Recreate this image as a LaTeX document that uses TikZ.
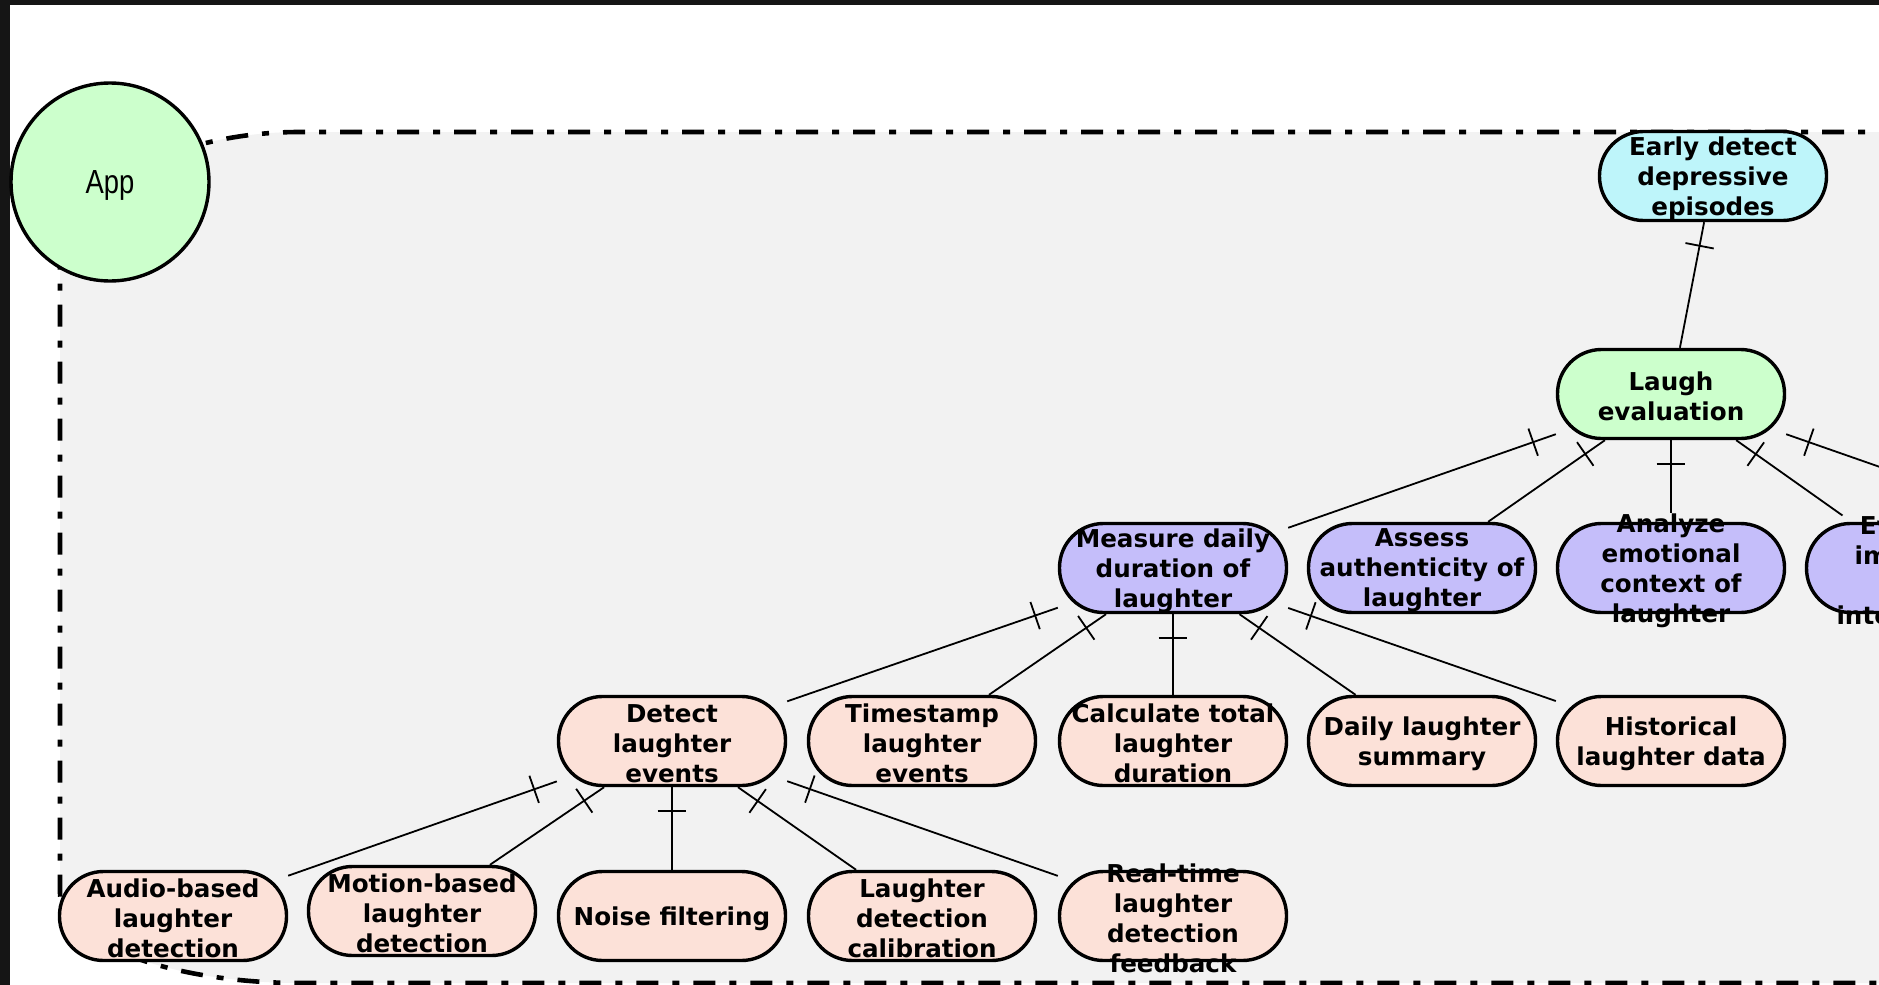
\documentclass[tikz,border=0pt]{standalone}
\usepackage{fontspec}
\setmainfont{DejaVu Sans}
\newfontfamily\appfont{Liberation Sans}[FakeStretch=0.82]
\usetikzlibrary{decorations.markings}

\definecolor{frame}{RGB}{21,21,21}
\definecolor{panel}{RGB}{242,242,242}
\definecolor{goalcyan}{RGB}{190,245,250}
\definecolor{featgreen}{RGB}{204,255,204}
\definecolor{subviolet}{RGB}{197,190,250}
\definecolor{taskpeach}{RGB}{252,225,216}

\tikzset{
  shapebox/.style={rectangle, rounded corners=22pt, minimum width=113.5pt,
    minimum height=44.5pt, inner sep=0pt, draw=black, line width=1.7pt},
  boxtext/.style={inner sep=0pt, align=center, yshift=-1.2pt,
    font=\bfseries\fontsize{12.3}{15}\selectfont},
  link/.style={draw=black, line width=0.9pt, postaction={decorate},
    decoration={markings, mark=at position 12pt with
      {\draw[line width=0.9pt] (0,-7.2pt) -- (0,7.2pt);}}},
  panelline/.style={draw=black, line width=2.3pt,
    dash pattern=on 11pt off 7pt on 3.5pt off 7pt, fill=panel},
  appnode/.style={circle, draw=black, line width=1.7pt, fill=featgreen,
    minimum size=99pt, inner sep=0pt, text depth=0pt,
    font=\appfont\fontsize{16.7}{20}\selectfont},
}

% a fixed-size rounded box with its (possibly overflowing) label on top
\newcommand\boxnode[4]{%
  \node[shapebox, fill=#2] (#1) at (#3) {};
  \node[boxtext] (#1-t) at (#1.center) {#4};
}

\begin{document}
\begin{tikzpicture}[x=0.5pt, y=-0.5pt]
\useasboundingbox (0,0) rectangle (1879,985);
\clip (0,0) rectangle (1879,985);
\fill[frame] (0,0) rectangle (1879,985);
\fill[white] (10,5) rectangle (1879,985);

% dash-dotted group frame
\path[panelline] (2300,132) -- (300,132)
  .. controls (167,132) and (60,194) .. (60,270)
  -- (60,893) .. controls (60,941) and (167,983) .. (300,983)
  -- (2300,983) -- cycle;

\node[appnode] (app) at (110,182) {App};

% goal and feature
\boxnode{early}{goalcyan}{1713,176}{Early detect\\depressive\\episodes}
\boxnode{laugh}{featgreen}{1671,394}{Laugh\\evaluation}

% sub-features
\boxnode{measure}{subviolet}{1173,568}{Measure daily\\duration of\\laughter}
\boxnode{assess}{subviolet}{1422,568}{Assess\\authenticity of\\laughter}
\boxnode{analyze}{subviolet}{1671,568}{Analyze\\emotional\\context of\\laughter}
\boxnode{evaluate}{subviolet}{1920,568}{Evaluate\\impact of\\social\\interactions}
\coordinate (nextsub) at (2169,568);

% tasks of the daily measure
\boxnode{detect}{taskpeach}{672,741}{Detect\\laughter\\events}
\boxnode{timestamp}{taskpeach}{922,741}{Timestamp\\laughter\\events}
\boxnode{calc}{taskpeach}{1173,741}{Calculate total\\laughter\\duration}
\boxnode{daily}{taskpeach}{1422,741}{Daily laughter\\summary}
\boxnode{hist}{taskpeach}{1671,741}{Historical\\laughter data}

% tasks of the detection
\boxnode{audio}{taskpeach}{173,916}{Audio-based\\laughter\\detection}
\boxnode{motion}{taskpeach}{422,911}{Motion-based\\laughter\\detection}
\boxnode{noise}{taskpeach}{672,916}{Noise filtering}
\boxnode{calib}{taskpeach}{922,916}{Laughter\\detection\\calibration}
\boxnode{realtime}{taskpeach}{1173,916}{Real-time\\laughter\\detection\\feedback}

% connectors
\draw[link] (early) -- (laugh);

\draw[link] (laugh) -- (measure);
\draw[link] (laugh) -- (assess);
\draw[link] (laugh) -- (analyze-t);
\draw[link] (laugh) -- (evaluate-t);
\draw[link] (laugh) -- (nextsub);

\draw[link] (measure) -- (detect);
\draw[link] (measure) -- (timestamp);
\draw[link] (measure) -- (calc);
\draw[link] (measure) -- (daily);
\draw[link] (measure) -- (hist);

\draw[link] (detect) -- (audio);
\draw[link] (detect) -- (motion);
\draw[link] (detect) -- (noise);
\draw[link] (detect) -- (calib);
\draw[link] (detect) -- (realtime);
\end{tikzpicture}
\end{document}
